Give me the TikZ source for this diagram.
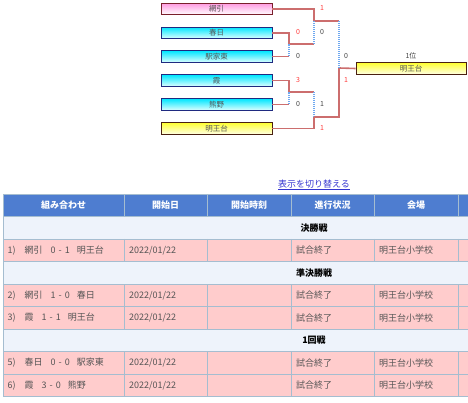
\documentclass[tikz,border=0pt]{standalone}
\usepackage{fontspec}
\setmainfont{Noto Sans CJK JP}
\usepackage{xcolor}
\usetikzlibrary{positioning,calc}

\definecolor{winred}{HTML}{CC6E6E}
\definecolor{losblue}{HTML}{6FA8F0}
\definecolor{scorered}{HTML}{FF3B3B}
\definecolor{scoregray}{HTML}{444444}
\definecolor{pinktop}{HTML}{FF99E0}
\definecolor{cyantop}{HTML}{00E6FF}
\definecolor{cyanbot}{HTML}{DDFFFF}
\definecolor{yellowtop}{HTML}{FFFF33}
\definecolor{yellowbot}{HTML}{FFFFE6}
\definecolor{pinkline}{HTML}{7A1F2B}
\definecolor{navyline}{HTML}{1F2A80}
\definecolor{brownline}{HTML}{4A2010}
\definecolor{headblue}{HTML}{4E7DD0}
\definecolor{sectbg}{HTML}{EEF3FB}
\definecolor{rowpink}{HTML}{FFCCCC}
\definecolor{gridline}{HTML}{A5BDD0}
\definecolor{linkblue}{HTML}{3535D0}
\definecolor{celltext}{HTML}{555555}

\begin{document}
\begin{tikzpicture}[x=1pt, y=-1pt,
    every node/.style={font=\fontsize{9}{10}\selectfont},
    team/.style={draw, line width=0.9pt, minimum width=111pt, minimum height=11.5pt, inner sep=0pt, text=celltext, font=\fontsize{7.5}{8}\selectfont},
    pinkteam/.style={team, draw=pinkline, top color=pinktop, bottom color=white},
    cyanteam/.style={team, draw=navyline, top color=cyantop, bottom color=cyanbot},
    yellowteam/.style={team, draw=brownline, top color=yellowtop, bottom color=yellowbot},
    won/.style={draw=winred, line width=1.6pt},
    lost/.style={draw=losblue, line width=1.2pt, dash pattern=on 1pt off 1pt},
    score/.style={font=\fontsize{7}{8}\selectfont, inner sep=0pt},
    grid/.style={draw=gridline, line width=0.9pt},
    headtext/.style={text=white, font=\fontsize{9}{10}\selectfont\bfseries},
    secttext/.style={text=black, font=\fontsize{9}{10}\selectfont\bfseries},
    cell/.style={anchor=west, inner sep=0pt, text=celltext},
]
\useasboundingbox (0,0) rectangle (468,403);

% bracket
\node[pinkteam] (amibiki) at (216.5,8.8) {網引};
\node[cyanteam] (kasuga) at (216.5,32.8) {春日};
\node[cyanteam] (ekiya) at (216.5,56.5) {駅家東};
\node[cyanteam] (kasumi) at (216.5,80.5) {霞};
\node[cyanteam] (kumano) at (216.5,104.5) {熊野};
\node[yellowteam] (meio) at (216.5,128.5) {明王台};
\node[yellowteam, minimum width=110pt] (champ) at (411,68.5) {明王台};
\node[score, text=scoregray, above=3pt of champ] (rank) {1位};

\coordinate (m5) at (289,44);
\coordinate (m6) at (289,92);
\coordinate (m2) at (314,21);
\coordinate (m3) at (314,117);
\coordinate (m1) at (339,68);

\draw[won] (kasuga.east) -| (m5) -- (m5 -| m2);
\draw[won] (ekiya.east) -- (ekiya.east -| m5);
\draw[lost] (ekiya.east -| m5) -- (m5);
\draw[won] (kasumi.east) -| (m6) -- (m6 -| m3);
\draw[won] (kumano.east) -- (kumano.east -| m6);
\draw[lost] (kumano.east -| m6) -- (m6);
\draw[won] (amibiki.east) -| (m2) -- (m2 -| m1);
\draw[lost] (m5 -| m2) -- (m2);
\draw[won] (meio.east) -| (m3);
\draw[lost] (m6 -| m3) -- (m3);
\draw[won] (m3) -| (m1) -- (champ.west);
\draw[lost] (m2 -| m1) -- (m1);

% scores
\node[score, text=scorered] (sc1) at (298,32) {0};
\node[score, text=scoregray] (sc2) at (298,56) {0};
\node[score, text=scorered] (sc3) at (298,80) {3};
\node[score, text=scoregray] (sc4) at (298,104) {0};
\node[score, text=scorered] (sc5) at (322,8) {1};
\node[score, text=scoregray] (sc6) at (322,32) {0};
\node[score, text=scoregray] (sc7) at (322,104) {1};
\node[score, text=scorered] (sc8) at (322,128) {1};
\node[score, text=scoregray] (sc9) at (346,56) {0};
\node[score, text=scorered] (sc10) at (346,80) {1};

\node[text=linkblue] (toggle) at (314,185) {\underline{表示を切り替える}};

% table
\fill[headblue] (3,194) rectangle (468,216.5);
\foreach \k in {1,3,6} \fill[sectbg] (3,194+22.5*\k) rectangle (468,216.5+22.5*\k);
\foreach \k in {2,4,5,7,8} {
  \fill[rowpink] (3,194+22.5*\k) rectangle (468,216.5+22.5*\k);
  \foreach \x in {124,207,291,374,458} \draw[grid] (\x,194+22.5*\k) -- (\x,216.5+22.5*\k);
}
\foreach \x in {124,207,291,374,458} \draw[grid] (\x,194) -- (\x,216.5);
\foreach \k in {0,...,9} \draw[grid] (3,194+22.5*\k) -- (468,194+22.5*\k);
\draw[grid] (3,194) -- (3,396.5);

\foreach \x/\t [count=\i] in {63.5/組み合わせ, 165.5/開始日, 249/開始時刻, 332.5/進行状況, 416/会場}
  \node[headtext] (h\i) at (\x,205.25) {\t};

\node[secttext] (final) at (314,227.75) {決勝戦};
\node[secttext] (semi) at (314,272.75) {準決勝戦};
\node[secttext] (first) at (314,340.25) {1回戦};

\foreach \y/\n/\a/\p/\q/\b in {250.25/1/網引/0/1/明王台, 295.25/2/網引/1/0/春日, 317.75/3/霞/1/1/明王台, 362.75/5/春日/0/0/駅家東, 385.25/6/霞/3/0/熊野} {
  \node[cell] (game\n) at (7.5,\y) {\n)\hspace{9pt}\a\hspace{8pt}\p\hspace{3pt}-\hspace{3pt}\q\hspace{7pt}\b};
  \node[cell] (date\n) at (129,\y) {2022/01/22};
  \node[cell] (state\n) at (296,\y) {試合終了};
  \node[cell] (venue\n) at (379,\y) {明王台小学校};
}
\end{tikzpicture}
\end{document}
